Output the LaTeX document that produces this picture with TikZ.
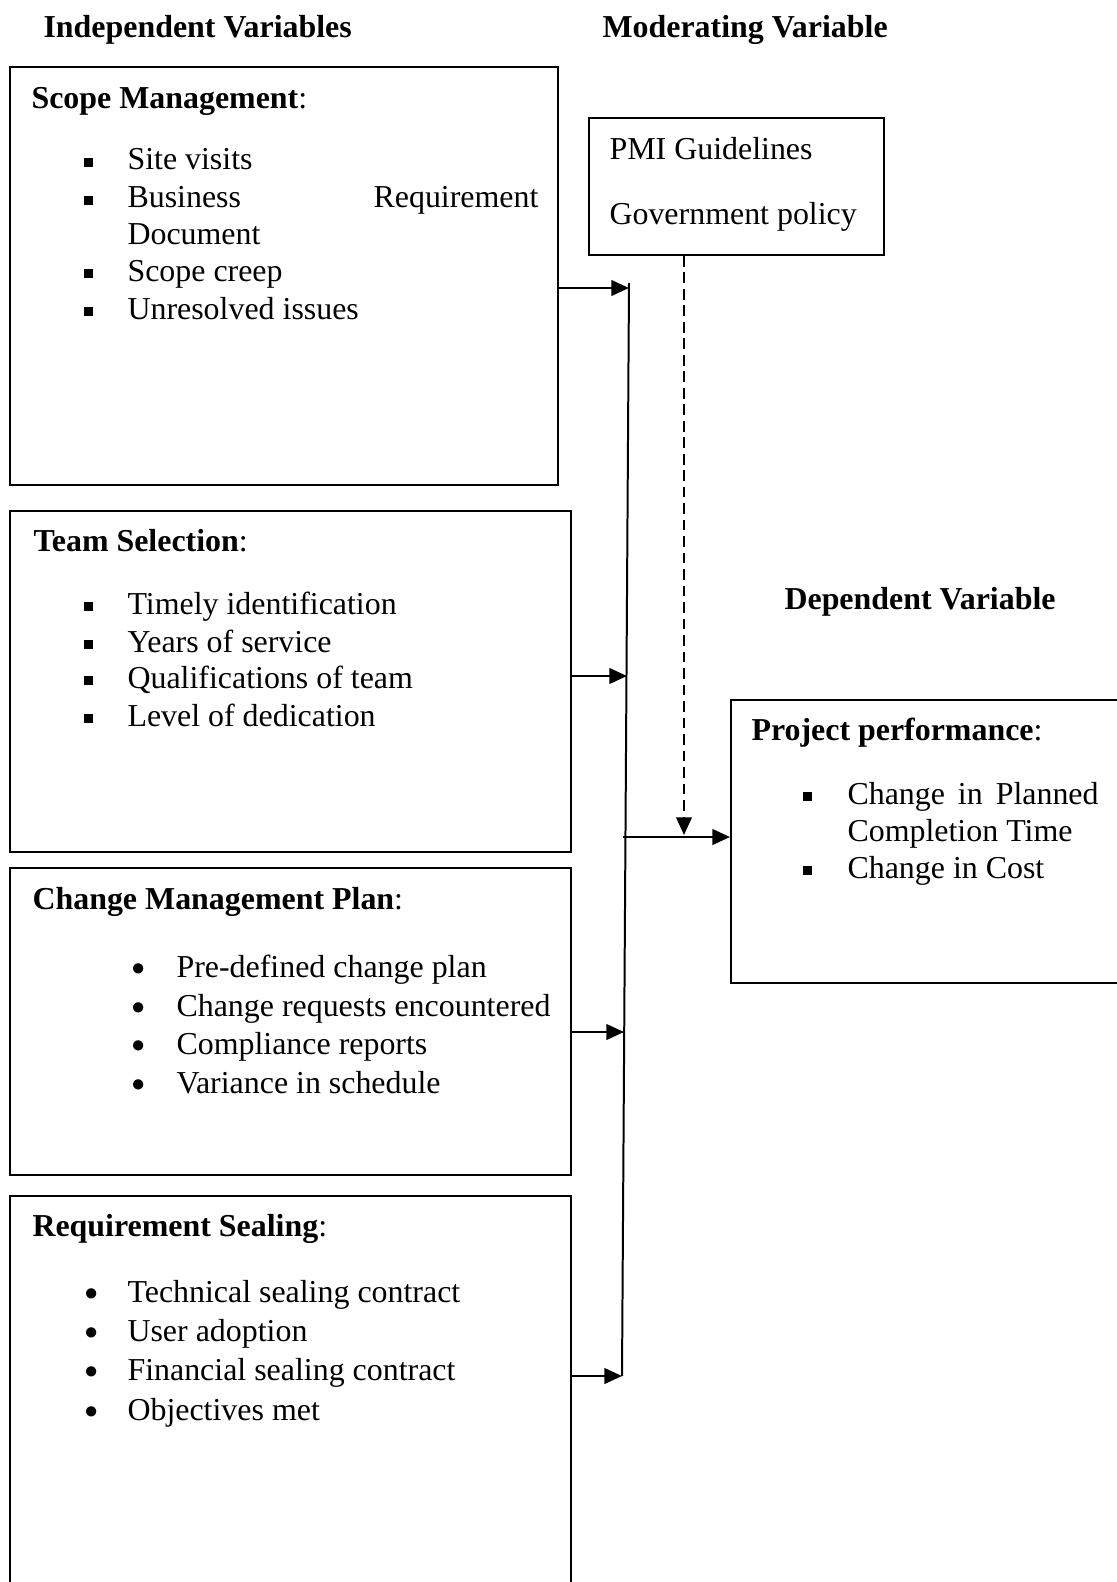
\documentclass[tikz,border=0pt]{standalone}
\usepackage{fontspec}
\setmainfont{Liberation Serif}
\usetikzlibrary{arrows.meta, positioning, fit}
\newcommand{\sqbul}{\rule[1pt]{3.7pt}{3.7pt}}
\newcommand{\rdbul}{\raisebox{0.7pt}{\fontsize{10pt}{12pt}\selectfont$\bullet$}}

\begin{document}
\begin{tikzpicture}[
    x=0.376pt, y=-0.376pt,
    box/.style={draw, line width=0.75pt, inner sep=0pt},
    head/.style={font=\fontsize{12pt}{14pt}\selectfont\bfseries, anchor=base west, inner sep=0pt},
    txt/.style={font=\fontsize{12pt}{14pt}\selectfont, anchor=base west, inner sep=0pt},
    arrow/.style={-{Triangle[length=6.6pt, width=5.8pt]}, line width=1pt},
    dasharrow/.style={arrow, line width=0.8pt, dash pattern=on 4pt off 2.2pt}
]
\useasboundingbox (0,0) rectangle (1117,1582);
\clip (0,0) rectangle (1117,1582);

% Headings
\node[head] (indep) at (43,38) {Independent Variables};
\node[head] (moder) at (602,38) {Moderating Variable};
\node[head] (dep) at (784,609) {Dependent Variable};

% Independent variables
\node[box, fit={(10,67) (558,485)}] (scope) {};
\node[txt] (scopet) at (31,108) {\textbf{Scope Management}:};
\node[txt] at (83,170) {\sqbul};
\node[txt] at (127,170) {Site visits};
\node[txt] at (83,208) {\sqbul};
\node[txt] at (127,208) {\makebox[154.5pt][s]{Business Requirement}};
\node[txt] at (127,244) {Document};
\node[txt] at (83,281) {\sqbul};
\node[txt] at (127,281) {Scope creep};
\node[txt] at (83,319) {\sqbul};
\node[txt] at (127,319) {Unresolved issues};

\node[box, fit={(10,511) (571,852)}] (team) {};
\node[txt] (teamt) at (33,551) {\textbf{Team Selection}:};
\node[txt] at (83,614) {\sqbul};
\node[txt] at (127,614) {Timely identification};
\node[txt] at (83,652) {\sqbul};
\node[txt] at (127,652) {Years of service};
\node[txt] at (83,688) {\sqbul};
\node[txt] at (127,688) {Qualifications of team};
\node[txt] at (83,726) {\sqbul};
\node[txt] at (127,726) {Level of dedication};

\node[box, fit={(10,868) (571,1175)}] (change) {};
\node[txt] (changet) at (32,909) {\textbf{Change Management Plan}:};
\node[txt] at (131,977) {\rdbul};
\node[txt] at (176,977) {Pre-defined change plan};
\node[txt] at (131,1016) {\rdbul};
\node[txt] at (176,1016) {Change requests encountered};
\node[txt] at (131,1054) {\rdbul};
\node[txt] at (176,1054) {Compliance reports};
\node[txt] at (131,1093) {\rdbul};
\node[txt] at (176,1093) {Variance in schedule};

\node[box, fit={(10,1196) (571,1610)}] (sealing) {};
\node[txt] (sealingt) at (32,1236) {\textbf{Requirement Sealing}:};
\node[txt] at (84,1302) {\rdbul};
\node[txt] at (127,1302) {Technical sealing contract};
\node[txt] at (84,1341) {\rdbul};
\node[txt] at (127,1341) {User adoption};
\node[txt] at (84,1380) {\rdbul};
\node[txt] at (127,1380) {Financial sealing contract};
\node[txt] at (84,1420) {\rdbul};
\node[txt] at (127,1420) {Objectives met};

% Moderating variable
\node[box, fit={(589,118) (884,255)}] (pmi) {};
\node[txt] at (609,160) {PMI Guidelines};
\node[txt] at (609,224) {Government policy};

% Dependent variable
\node[box, fit={(731,700) (1140,983)}] (perf) {};
\node[txt] (perft) at (751,740) {\textbf{Project performance}:};
\node[txt] at (802,804) {\sqbul};
\node[txt] at (847,804) {\makebox[94.4pt][s]{Change in Planned}};
\node[txt] at (847,841) {Completion Time};
\node[txt] at (802,878) {\sqbul};
\node[txt] at (847,878) {Change in Cost};

% Bus line and arrows
\coordinate (bustop) at (629,283);
\coordinate (busbot) at (622,1376);
\coordinate (bus1) at (629,288);
\coordinate (bus2) at (627,676);
\coordinate (bus3) at (624,1032);
\coordinate (busout) at (623,837);
\coordinate (join) at (684,835);
\draw[line width=0.75pt] (bustop) -- (busbot);
\draw[arrow] (scope.east |- bus1) -- (bus1);
\draw[arrow] (team.east |- bus2) -- (bus2);
\draw[arrow] (change.east |- bus3) -- (bus3);
\draw[arrow] (sealing.east |- busbot) -- (busbot);
\draw[arrow] (busout) -- (perf.west |- busout);
\draw[dasharrow] (pmi.south -| join) -- (join);

\end{tikzpicture}
\end{document}
